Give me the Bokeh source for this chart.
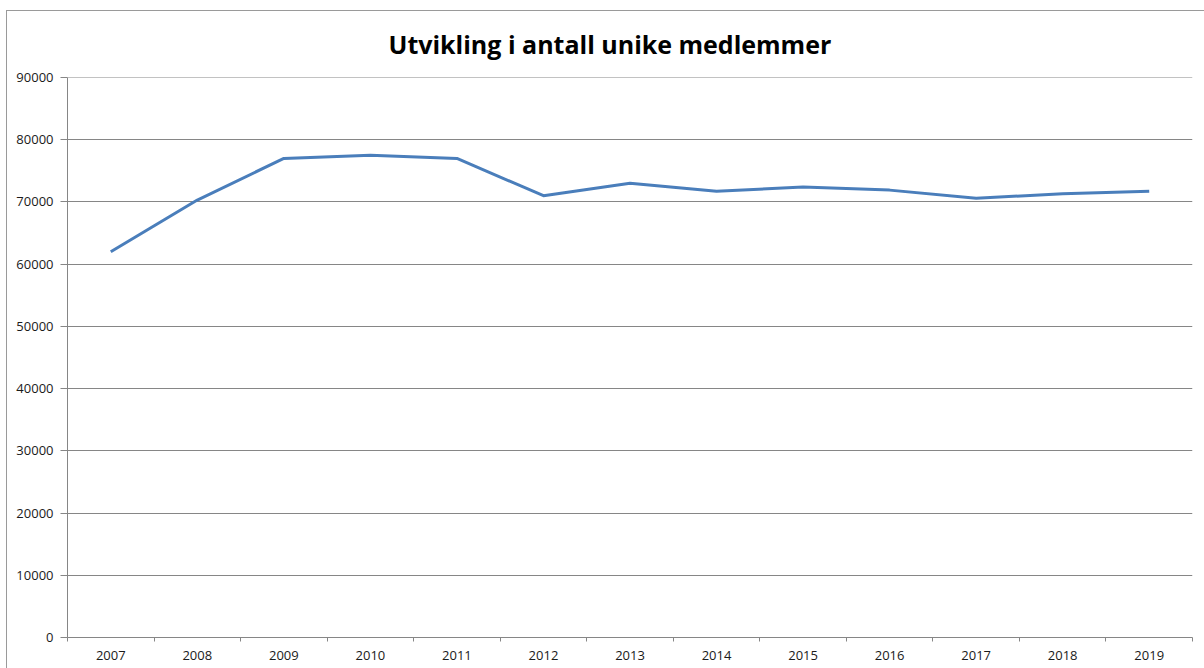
from bokeh.plotting import figure
from bokeh.models import FactorRange, Range1d, LinearAxis, FixedTicker, Grid, Span
from bokeh.embed import file_html
from bokeh.resources import INLINE

years = ["2007", "2008", "2009", "2010", "2011", "2012", "2013",
         "2014", "2015", "2016", "2017", "2018", "2019"]
members = [62000, 70300, 77000, 77500, 77000, 71000, 73000,
           71700, 72400, 71900, 70600, 71300, 71700]
y_ticks = [0, 10000, 20000, 30000, 40000, 50000, 60000, 70000, 80000, 90000]
title_text = "Utvikling i antall unike medlemmer"

GRID = "#868686"
FONT = "Open Sans"
LABEL = "#1a1a1a"

p = figure(width=1198, height=658, output_backend="svg", toolbar_location=None,
           x_range=FactorRange(factors=years, range_padding=0),
           y_range=Range1d(0, 90000),
           x_axis_type=None, y_axis_type=None,
           min_border_left=60, min_border_right=13, min_border_top=66,
           min_border_bottom=32, margin=(10, 0, 0, 6))

p.title.text = title_text
p.title.text_font = FONT
p.title.text_font_size = "25px"
p.title.text_font_style = "bold"
p.title.text_color = "#000000"
p.title.align = "left"
p.title.vertical_align = "top"
p.title.offset = 321
p.title.standoff = 30

p.outline_line_color = None
p.background_fill_color = "white"
p.border_fill_color = "white"

# y axis
yax = LinearAxis(ticker=FixedTicker(ticks=y_ticks))
yax.axis_line_color = GRID
yax.major_tick_line_color = GRID
yax.major_tick_in = 0
yax.major_tick_out = 7
yax.minor_tick_line_color = None
yax.major_label_text_font = FONT
yax.major_label_text_font_size = "13px"
yax.major_label_text_color = LABEL
yax.major_label_standoff = 7
yax.formatter.use_scientific = False
p.add_layout(yax, "left")

# x axis: labels at category centres, ticks at category boundaries
centres = [i + 0.5 for i in range(len(years))]
bounds = list(range(len(years) + 1))
xax = LinearAxis(ticker=FixedTicker(ticks=centres, minor_ticks=bounds))
xax.major_label_overrides = {c: y for c, y in zip(centres, years)}
xax.axis_line_color = GRID
xax.major_tick_line_color = None
xax.major_tick_in = 0
xax.major_tick_out = 5
xax.minor_tick_line_color = GRID
xax.minor_tick_in = 0
xax.minor_tick_out = 4
xax.major_label_text_font = FONT
xax.major_label_text_font_size = "13px"
xax.major_label_text_color = LABEL
xax.major_label_standoff = 8
p.add_layout(xax, "below")

p.add_layout(Grid(dimension=1, ticker=yax.ticker, grid_line_color=GRID, grid_line_width=1))
p.add_layout(Span(location=y_ticks[-1], dimension="width", line_color=GRID, line_width=1))

p.line(x=years, y=members, line_color="#4a7ebb", line_width=3, line_join="round")

p.styles = {"border-top": "1px solid #9a9a9a", "border-left": "1px solid #9a9a9a"}

open("out.html", "w").write(file_html(p, INLINE))
